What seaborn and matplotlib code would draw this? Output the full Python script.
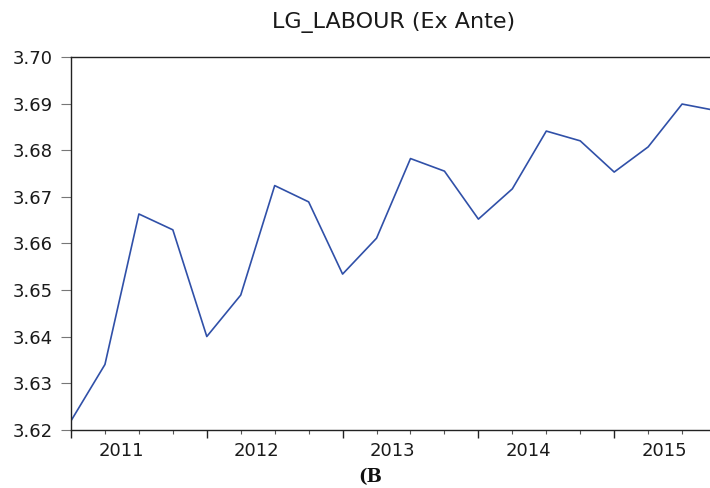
import numpy as np
import pandas as pd
import matplotlib
matplotlib.use("Agg")
import matplotlib.pyplot as plt
import matplotlib.transforms as mtransforms
import seaborn as sns

# quarterly observations, 2011Q1 - 2015Q4
quarters = ["2011Q1", "2011Q2", "2011Q3", "2011Q4",
            "2012Q1", "2012Q2", "2012Q3", "2012Q4",
            "2013Q1", "2013Q2", "2013Q3", "2013Q4",
            "2014Q1", "2014Q2", "2014Q3", "2014Q4",
            "2015Q1", "2015Q2", "2015Q3", "2015Q4"]
lg_labour = [3.6219, 3.6340, 3.6663, 3.6629,
             3.6400, 3.6489, 3.6724, 3.6689,
             3.6534, 3.6611, 3.6782, 3.6755,
             3.6652, 3.6717, 3.6841, 3.6820,
             3.6753, 3.6807, 3.6899, 3.6885]
years = ["2011", "2012", "2013", "2014", "2015"]
y_ticks = [3.62, 3.63, 3.64, 3.65, 3.66, 3.67, 3.68, 3.69, 3.70]

df = pd.DataFrame({"quarter": quarters, "lg_labour": lg_labour})
df["t"] = np.arange(len(df))

sns.set_style("ticks")
plt.rcParams["font.family"] = ["DejaVu Sans"]

fig = plt.figure(figsize=(7.1, 4.88), dpi=100)
# axes runs slightly past the right edge (reference is cropped there)
ax = fig.add_axes([0.1, 0.1195, 0.9085, 0.7637])

sns.lineplot(data=df, x="t", y="lg_labour", ax=ax, color="#3050A8", linewidth=1.2)

ax.set_xlim(0, len(df) - 1)
ax.set_ylim(3.62, 3.70)
ax.set_yticks(y_ticks)
ax.set_yticklabels([f"{v:.2f}" for v in y_ticks])

# year boundaries as major ticks, quarters as minor ticks
ax.set_xticks(np.arange(0, len(df), 4))
ax.set_xticklabels([""] * len(years))
ax.set_xticks(np.arange(len(df)), minor=True)
ax.tick_params(axis="x", which="major", length=6, width=1, color="#222222", direction="out")
ax.tick_params(axis="x", which="minor", length=3, width=0.8, color="#555555", direction="out")
ax.tick_params(axis="y", length=7, width=0.8, color="#777777", pad=6,
               labelsize=13, labelcolor="#1a1a1a")

# year labels sit inside each year block
trans = mtransforms.blended_transform_factory(ax.transData, ax.transAxes)
for i, yr in enumerate(years):
    ax.text(4 * i + 1.47, -0.034, yr, transform=trans, ha="center", va="top",
            fontsize=13, color="#1a1a1a")

for s in ax.spines.values():
    s.set_color("#222222")
    s.set_linewidth(1.0)

ax.set_xlabel("")
ax.set_ylabel("")
ax.set_title("LG_LABOUR (Ex Ante)", fontsize=16, color="#1a1a1a", pad=21)

# caption fragment at the bottom of the reference
fig.text(0.504, 1 - 468 / 488, "(B", ha="left", va="top", fontsize=13,
         fontweight="bold", family="DejaVu Serif", color="#111111")

fig.savefig("out.png", dpi=100)
